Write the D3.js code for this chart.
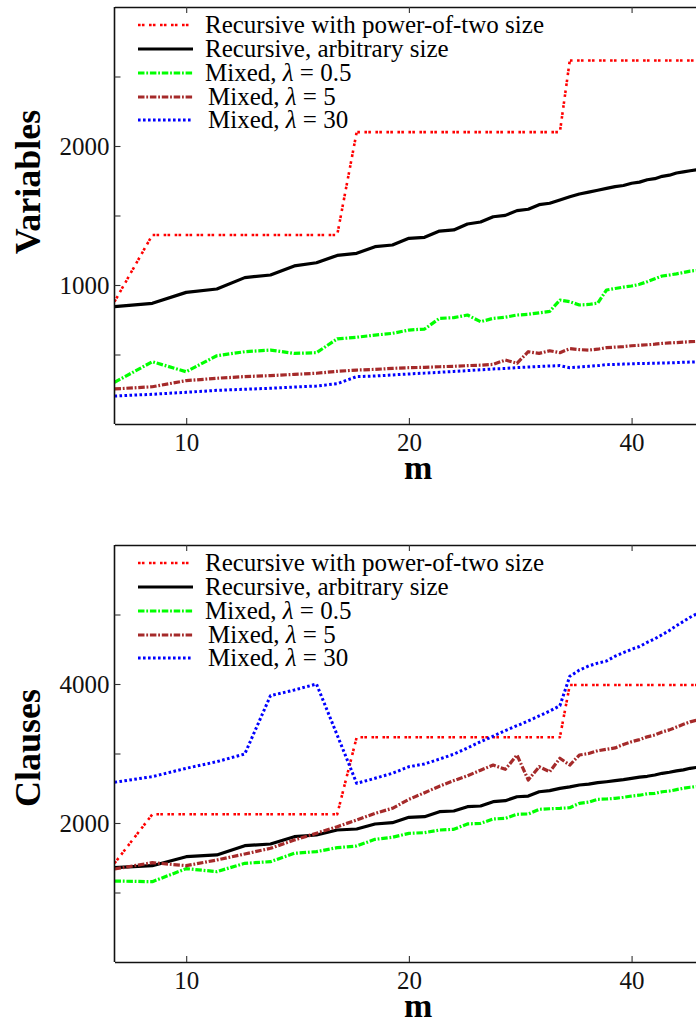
<!DOCTYPE html>
<html>
<head>
<meta charset="utf-8">
<script src="https://cdnjs.cloudflare.com/ajax/libs/d3/7.8.5/d3.min.js"></script>
<style>
  body { margin: 0; background: #fff; }
  svg { display: block; }
</style>
</head>
<body>
<script>
// m values (x axis, log scale)
var mValues = [8, 9, 10, 11, 12, 13, 14, 15, 16, 17, 18, 19, 20, 21, 22, 23, 24, 25, 26, 27, 28,
    29, 30, 31, 32, 33, 34, 35, 36, 37, 38, 39, 40, 41, 42, 43, 44, 45, 46, 47, 48, 49];

// top panel: number of variables
var varPow2 = [880, 1360, 1360, 1360, 1360, 1360, 1360, 1360, 1360, 2100, 2100, 2100, 2100, 2100,
    2100, 2100, 2100, 2100, 2100, 2100, 2100, 2100, 2100, 2100, 2100, 2615, 2615, 2615, 2615, 2615,
    2615, 2615, 2615, 2615, 2615, 2615, 2615, 2615, 2615, 2615, 2615, 2615];
var varArb = [844, 868, 947, 971, 1053, 1072, 1137, 1160, 1213, 1228, 1276, 1288, 1336, 1343, 1388,
    1396, 1439, 1453, 1491, 1501, 1535, 1545, 1578, 1588, 1612, 1635, 1655, 1668, 1682, 1695, 1708,
    1716, 1732, 1740, 1757, 1765, 1782, 1790, 1806, 1814, 1822, 1830];
var varMix05 = [300, 448, 376, 491, 520, 532, 508, 513, 612, 624, 640, 652, 676, 683, 760, 765, 784,
    736, 760, 768, 784, 789, 800, 810, 892, 880, 856, 860, 870, 964, 975, 985, 993, 1005, 1024, 1045,
    1065, 1072, 1080, 1090, 1100, 1105];
var varMix5 = [252, 268, 312, 329, 341, 348, 357, 365, 379, 388, 393, 400, 405, 408, 412, 415, 420,
    423, 429, 460, 437, 520, 508, 527, 513, 542, 535, 532, 538, 549, 553, 557, 563, 566, 570, 574,
    580, 583, 586, 589, 592, 594];
var varMix30 = [201, 214, 228, 242, 250, 257, 266, 273, 290, 341, 345, 353, 360, 366, 372, 378, 384,
    390, 396, 400, 406, 410, 414, 417, 420, 405, 410, 415, 420, 427, 429, 431, 433, 435, 436, 437,
    439, 440, 442, 444, 446, 447];

// bottom panel: number of clauses
var clsPow2 = [1420, 2125, 2125, 2125, 2125, 2125, 2125, 2125, 2125, 3233, 3233, 3233, 3233, 3233,
    3233, 3233, 3233, 3233, 3233, 3233, 3233, 3233, 3233, 3233, 3233, 3986, 3986, 3986, 3986, 3986,
    3986, 3986, 3986, 3986, 3986, 3986, 3986, 3986, 3986, 3986, 3986, 3986];
var clsArb = [1357, 1386, 1515, 1540, 1674, 1698, 1803, 1827, 1899, 1914, 1986, 2005, 2082, 2091,
    2163, 2173, 2235, 2245, 2307, 2321, 2378, 2388, 2450, 2465, 2499, 2520, 2547, 2560, 2580, 2594,
    2610, 2625, 2643, 2660, 2672, 2690, 2715, 2730, 2750, 2765, 2787, 2800];
var clsMix05 = [1165, 1156, 1343, 1300, 1420, 1444, 1564, 1588, 1645, 1669, 1765, 1794, 1851, 1861,
    1899, 1909, 1986, 1995, 2058, 2067, 2125, 2130, 2197, 2205, 2211, 2220, 2283, 2300, 2341, 2345,
    2355, 2370, 2388, 2400, 2420, 2427, 2450, 2460, 2480, 2500, 2515, 2525];
var clsMix5 = [1338, 1429, 1386, 1468, 1554, 1636, 1755, 1852, 1947, 2043, 2139, 2211, 2340, 2436,
    2530, 2610, 2680, 2760, 2834, 2772, 2978, 2619, 2810, 2738, 2931, 2834, 2978, 3000, 3040, 3060,
    3080, 3130, 3170, 3200, 3240, 3266, 3310, 3340, 3380, 3420, 3455, 3480];
var clsMix30 = [2586, 2667, 2787, 2882, 2993, 3832, 3914, 4000, 3265, 2571, 2643, 2715, 2810, 2850,
    2920, 2990, 3080, 3170, 3250, 3330, 3400, 3470, 3540, 3610, 3688, 4110, 4200, 4260, 4300, 4330,
    4400, 4450, 4500, 4540, 4600, 4650, 4710, 4770, 4840, 4900, 4960, 5010];

// legend names (lambda is drawn in italics)
var seriesNames = ["Recursive with power-of-two size", "Recursive, arbitrary size",
    "Mixed, |λ| = 0.5", "Mixed, |λ| = 5", "Mixed, |λ| = 30"];

// ticks
var xTicks = [10, 20, 40];
var varTicks = [500, 1000, 1500, 2000, 2500];
var varTickLabels = [1000, 2000];
var clsTicks = [1000, 2000, 3000, 4000, 5000];
var clsTickLabels = [2000, 4000];

// line styles, same order as the series
var styles = [
    { color: "#ff0000", width: 2.6, dash: "2.6,1.3,2.6,4.5" },
    { color: "#000000", width: 3.2, dash: null },
    { color: "#00ff00", width: 3.2, dash: "6.5,1.8,1.8,1.8" },
    { color: "#a52a2a", width: 3.2, dash: "6.5,1.8,1.8,1.8" },
    { color: "#0000ff", width: 3, dash: "2.6,2.4" }
];

var svgWidth = 696;
var svgHeight = 1025;
var fontFamily = '"Liberation Serif", "DejaVu Serif", serif';

var svg = d3.select("body")
    .append("svg")
    .attr("width", svgWidth)
    .attr("height", svgHeight);

// log x scale shared by both panels
var xScale = d3.scaleLog()
    .domain([8, 53])
    .range([114.5, 722]);

function drawPanel(id, top, bottom, yMax, ticks, tickLabels, series, yLabel, yLabelY) {
    var yScale = d3.scaleLinear()
        .domain([0, yMax])
        .range([bottom, top]);

    var left = xScale.range()[0];
    var right = xScale.range()[1];

    svg.append("clipPath")
        .attr("id", "clip-" + id)
        .append("rect")
        .attr("x", left)
        .attr("y", top)
        .attr("width", right - left)
        .attr("height", bottom - top);

    var line = d3.line()
        .x(function (d) { return xScale(d[0]); })
        .y(function (d) { return yScale(d[1]); });

    var lines = svg.append("g").attr("clip-path", "url(#clip-" + id + ")");
    series.forEach(function (values, i) {
        var pts = mValues.map(function (m, j) { return [m, values[j]]; });
        lines.append("path")
            .attr("d", line(pts))
            .attr("fill", "none")
            .attr("stroke", styles[i].color)
            .attr("stroke-width", styles[i].width)
            .attr("stroke-dasharray", styles[i].dash)
            .attr("stroke-linejoin", "round");
    });

    // axes, ticks pointing inwards
    var xAxis = d3.axisBottom(xScale)
        .tickValues(xTicks)
        .tickFormat(d3.format("d"))
        .tickSizeInner(-6)
        .tickSizeOuter(0)
        .tickPadding(9);
    var gx = svg.append("g")
        .attr("transform", "translate(0," + bottom + ")")
        .call(xAxis);

    var gTop = svg.append("g")
        .attr("transform", "translate(0," + top + ")")
        .call(d3.axisTop(xScale).tickValues(xTicks).tickFormat("").tickSizeInner(-6).tickSizeOuter(0));
    gTop.selectAll(".tick text").remove();

    var yAxis = d3.axisLeft(yScale)
        .tickValues(ticks)
        .tickFormat(function (d) { return tickLabels.indexOf(d) >= 0 ? d : ""; })
        .tickSizeInner(-6)
        .tickSizeOuter(0)
        .tickPadding(5);
    var gy = svg.append("g")
        .attr("transform", "translate(" + left + ",0)")
        .call(yAxis);
    gy.selectAll(".tick text").filter(function (d) { return tickLabels.indexOf(d) < 0; }).remove();

    [gx, gTop, gy].forEach(function (g) {
        g.attr("font-family", fontFamily).attr("font-size", 25);
        g.select(".domain").attr("stroke", "#111").attr("stroke-width", 1.6);
        g.selectAll(".tick line").attr("stroke", "#333").attr("stroke-width", 1.1);
        g.selectAll(".tick text").attr("fill", "#111");
    });
    // the y domain path should span the full height
    gy.select(".domain").attr("d", "M0," + top + "V" + bottom);

    // axis titles
    svg.append("text")
        .attr("x", (left + right) / 2)
        .attr("y", bottom + 55)
        .attr("text-anchor", "middle")
        .attr("font-family", fontFamily)
        .attr("font-weight", "bold")
        .attr("font-size", 34)
        .text("m");

    svg.append("text")
        .attr("transform", "translate(40," + yLabelY + ") rotate(-90)")
        .attr("text-anchor", "middle")
        .attr("font-family", fontFamily)
        .attr("font-weight", "bold")
        .attr("font-size", 36)
        .text(yLabel);

    // legend
    var rowOffsets = [18, 42, 66, 90, 113];
    var legend = svg.append("g").attr("font-family", fontFamily).attr("font-size", 25);
    seriesNames.forEach(function (name, i) {
        var y = top + rowOffsets[i];
        legend.append("line")
            .attr("x1", 138).attr("x2", 193)
            .attr("y1", y).attr("y2", y)
            .attr("stroke", styles[i].color)
            .attr("stroke-width", styles[i].width)
            .attr("stroke-dasharray", styles[i].dash);
        var t = legend.append("text")
            .attr("x", i >= 3 ? 208 : 205)
            .attr("y", y)
            .attr("dy", "0.3em");
        name.split("|").forEach(function (part, k) {
            var span = t.append("tspan").text(part);
            if (k === 1) span.attr("font-style", "italic");
        });
    });
}

drawPanel("var", 7, 424, 3000, varTicks, varTickLabels,
    [varPow2, varArb, varMix05, varMix5, varMix30], "Variables", 182);
drawPanel("cls", 545, 962, 6000, clsTicks, clsTickLabels,
    [clsPow2, clsArb, clsMix05, clsMix5, clsMix30], "Clauses", 748);
</script>
</body>
</html>
